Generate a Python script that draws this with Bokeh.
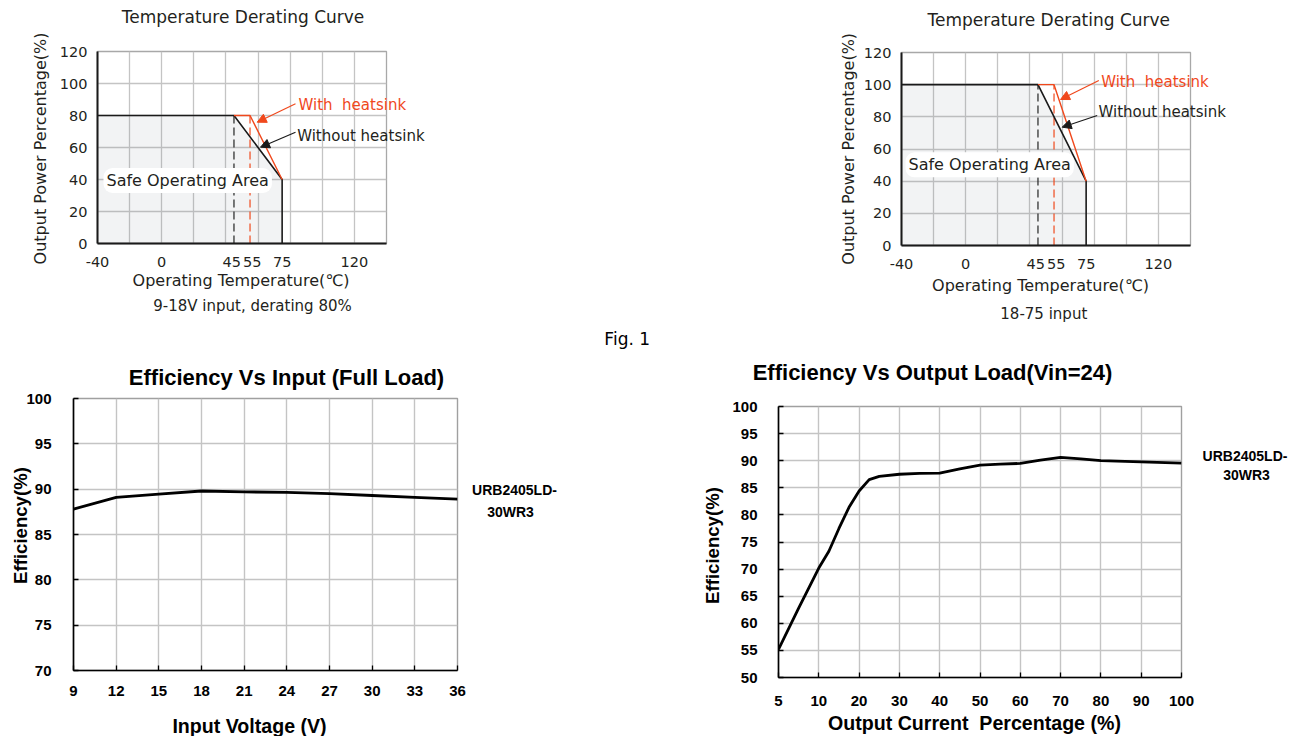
import math
import numpy as np
from bokeh.plotting import figure
from bokeh.layouts import column, row
from bokeh.models import Range1d, FixedTicker, Label, Arrow, NormalHead
from bokeh.embed import file_html
from bokeh.resources import INLINE

# ---------------- data ----------------
temp_ticks = [-40, 0, 45, 55, 75, 120]
temp_grid = [-40, -20, 0, 20, 40, 60, 80, 100, 120, 140]
power_ticks = [0, 20, 40, 60, 80, 100, 120]

# derating curves: temperature (C) vs output power (%)
no_hs_temp = [-40, 45, 75, 75]
hs_temp = [45, 55, 75]
no_hs_power_a = [80, 80, 40, 0]
hs_power_a = [80, 80, 40]
no_hs_power_b = [100, 100, 40, 0]
hs_power_b = [100, 100, 40]

vin = [9, 12, 15, 18, 21, 24, 27, 30, 33, 36]
eff_vin = [87.8, 89.1, 89.45, 89.8, 89.7, 89.65, 89.5, 89.3, 89.1, 88.9]
eff_ticks_c = [70, 75, 80, 85, 90, 95, 100]

load_ticks = [5, 10, 20, 30, 40, 50, 60, 70, 80, 90, 100]
load = [5, 7.5, 10, 12.5, 15, 17.5, 20, 22.5, 25, 30, 35, 40, 45, 50, 55, 60, 65, 70, 75, 80, 90, 100]
eff_load = [55.2, 62.8, 70.2, 73.3, 77.5, 81.4, 84.4, 86.5, 87.1, 87.5, 87.65, 87.7, 88.5, 89.2,
            89.35, 89.5, 90.1, 90.6, 90.35, 90.0, 89.8, 89.55]
eff_ticks_d = [50, 55, 60, 65, 70, 75, 80, 85, 90, 95, 100]

TXT = "#231f20"
RED = "#f0481c"
TOPF = "DejaVu Sans"
BOTF = "Liberation Sans"
NB = "\u00a0"
ROW1 = 352
ROW2 = 384
SPLIT1 = 660


class Geo:
    def __init__(self, ox, oy, bl, bt, fw, fh, xr, yr):
        self.fl = ox + bl
        self.ft = oy + bt
        self.fw, self.fh = fw, fh
        self.xr, self.yr = xr, yr

    def x(self, px):
        return self.xr[0] + (px - self.fl) / self.fw * (self.xr[1] - self.xr[0])

    def y(self, py):
        return self.yr[1] - (py - self.ft) / self.fh * (self.yr[1] - self.yr[0])


def make_fig(ox, oy, width, height, bl, bt, fw, fh, xr, yr):
    p = figure(width=width, height=height, x_range=Range1d(*xr), y_range=Range1d(*yr),
               output_backend="svg", toolbar_location=None)
    p.min_border_left = bl
    p.min_border_top = bt
    p.min_border_right = width - bl - fw
    p.min_border_bottom = height - bt - fh
    p.background_fill_color = "white"
    p.border_fill_color = "white"
    p.axis.minor_tick_in = 0
    p.axis.minor_tick_out = 0
    return p, Geo(ox, oy, bl, bt, fw, fh, xr, yr)


def lab(p, g, text, px, py, size, font, side=None, color=TXT, align="center", angle=0,
        style="normal", **kw):
    lb = Label(x=g.x(px), y=g.y(py), text=text, text_font=font, text_font_size=f"{size}px",
               text_color=color, text_align=align, text_baseline="middle", angle=angle,
               text_font_style=style, **kw)
    if side is None:
        p.add_layout(lb)
    else:
        p.add_layout(lb, side)


def arrow(p, g, x0, y0, x1, y1, color):
    p.add_layout(Arrow(x_start=g.x(x0), y_start=g.y(y0), x_end=g.x(x1), y_end=g.y(y1),
                       line_color=color, line_width=1.2,
                       end=NormalHead(size=9, fill_color=color, line_color=color, line_width=1)))


def derating(ox, width, bl, bt, fh, no_hs_power, hs_power, pos):
    p, g = make_fig(ox, 0, width, ROW1, bl, bt, 289, fh, (-40, 140), (0, 120))
    p.xaxis.ticker = FixedTicker(ticks=temp_ticks)
    p.xaxis.major_label_overrides = {-40: "-40", 45: "45" + NB, 55: NB + "55"}
    p.xgrid.ticker = FixedTicker(ticks=temp_grid)
    p.yaxis.ticker = FixedTicker(ticks=power_ticks)
    p.ygrid.ticker = FixedTicker(ticks=power_ticks)
    p.axis.major_tick_in = 0
    p.axis.major_tick_out = 0
    p.axis.major_label_text_font = TOPF
    p.axis.major_label_text_font_size = "14.5px"
    p.axis.major_label_text_color = TXT
    p.axis.major_label_standoff = 10
    p.axis.axis_line_color = "#1a1a1a"
    p.axis.axis_line_width = 2
    p.grid.grid_line_color = "#c4c4c4"
    p.grid.grid_line_width = 1.3
    p.outline_line_color = "#a8a8a8"
    p.outline_line_width = 1.3

    rated = no_hs_power[0]
    p.patch([no_hs_temp[0]] + no_hs_temp, [0] + no_hs_power, fill_color="#6a7a8a",
            fill_alpha=0.09, line_alpha=0)
    p.line([hs_temp[0], hs_temp[0]], [0, rated], line_color="#222222", line_width=1.2,
           line_dash="8 4")
    p.line([hs_temp[1], hs_temp[1]], [0, rated], line_color=RED, line_width=1.2,
           line_dash="8 4")
    p.line(no_hs_temp, no_hs_power, line_color="#1a1a1a", line_width=1.6)
    p.line(hs_temp, hs_power, line_color=RED, line_width=1.4)

    sides = pos["sides"]
    lab(p, g, "Temperature Derating Curve", *pos["title"], 17, TOPF, side="above")
    lab(p, g, "Output Power Percentage(%)", *pos["ylab"], 16, TOPF, side="left",
        angle=math.pi / 2)
    lab(p, g, "Operating Temperature(\u2103)", *pos["xlab"], 16, TOPF, side="below")
    lab(p, g, pos["subtitle"], *pos["sub"], 15, TOPF, side="below")
    lab(p, g, "With " + NB + "heatsink", *pos["with"], 15, TOPF, side=sides[0], color=RED,
        align="left")
    lab(p, g, "Without heatsink", *pos["without"], 15, TOPF, side=sides[1], align="left")
    lab(p, g, "Safe Operating Area", *pos["safe"], 16, TOPF, align="left",
        background_fill_color="white", padding=3, border_radius=9)
    arrow(p, g, *pos["red_arrow"], RED)
    arrow(p, g, *pos["blk_arrow"], "#1a1a1a")
    return p, g


pa, ga = derating(0, SPLIT1, 97, 51, 192, no_hs_power_a, hs_power_a, {
    "title": (242.5, 16), "ylab": (40, 148), "xlab": (240.5, 280), "sub": (252, 305),
    "subtitle": "9-18V input, derating 80%", "sides": ("right", "right"),
    "with": (298, 104.5), "without": (296.7, 135.7), "safe": (103, 180),
    "red_arrow": (295, 103.3, 256.7, 121.7), "blk_arrow": (295, 131.7, 260, 146.7)})

pb, gb = derating(SPLIT1, 1298 - SPLIT1, 901 - SPLIT1, 52, 193, no_hs_power_b, hs_power_b, {
    "title": (1048.3, 19.3), "ylab": (848.3, 148.3), "xlab": (1040, 285), "sub": (1043.3, 313.3),
    "subtitle": "18-75 input", "sides": ("left", "below"),
    "with": (1100.7, 81.7), "without": (1098, 111.7), "safe": (905, 164.3),
    "red_arrow": (1098.3, 80, 1060, 99), "blk_arrow": (1096.7, 115, 1061.7, 126.7)})

lab(pa, ga, "Fig. 1", 626.7, 338.3, 17, TOPF, side="below", color="black")


def style_bottom(p):
    p.axis.major_tick_in = 5
    p.axis.major_tick_out = 0
    p.axis.major_tick_line_color = "black"
    p.axis.major_tick_line_width = 1.3
    p.axis.major_label_text_font = BOTF
    p.axis.major_label_text_font_size = "15px"
    p.axis.major_label_text_font_style = "bold"
    p.axis.major_label_text_color = "black"
    p.axis.axis_line_color = "black"
    p.axis.axis_line_width = 1.6
    p.grid.grid_line_color = "#c4c4c4"
    p.grid.grid_line_width = 1.4
    p.outline_line_color = "#a0a0a0"
    p.outline_line_width = 1.4


B = "bold"

# ---------------- Efficiency vs input ----------------
pc, gc = make_fig(0, ROW1, 650, ROW2, 73, 398 - ROW1, 384, 272, (9, 36), (70, 100))
style_bottom(pc)
pc.xaxis.ticker = FixedTicker(ticks=vin)
pc.yaxis.ticker = FixedTicker(ticks=eff_ticks_c)
pc.xaxis.major_label_standoff = 15
pc.yaxis.major_label_standoff = 22
pc.line(vin, eff_vin, line_color="black", line_width=2.8)
lab(pc, gc, "Efficiency Vs Input (Full Load)", 286, 377, 22, BOTF, side="above", color="black", style=B)
lab(pc, gc, "Efficiency(%)", 20, 525, 18.6, BOTF, side="right", color="black", angle=math.pi / 2, style=B)
lab(pc, gc, "Input Voltage (V)", 249, 725, 19.6, BOTF, side="below", color="black", style=B)
lab(pc, gc, "URB2405LD-", 514, 489, 14, BOTF, side="right", color="black", style=B)
lab(pc, gc, "30WR3", 510, 511.7, 14, BOTF, side="right", color="black", style=B)

# ---------------- Efficiency vs load ----------------
pd_, gd = make_fig(650, ROW1, 648, ROW2, 128, 406 - ROW1, 403, 271, (0, 10), (50, 100))
style_bottom(pd_)
pos_idx = list(range(len(load_ticks)))
pd_.xaxis.ticker = FixedTicker(ticks=pos_idx)
pd_.xaxis.major_label_overrides = {i: str(v) for i, v in zip(pos_idx, load_ticks)}
pd_.yaxis.ticker = FixedTicker(ticks=eff_ticks_d)
pd_.xaxis.major_label_standoff = 18
pd_.yaxis.major_label_standoff = 21
load_pos = np.interp(load, load_ticks, pos_idx)
pd_.line(load_pos, eff_load, line_color="black", line_width=2.8)
lab(pd_, gd, "Efficiency Vs Output Load(Vin=24)", 932, 372, 22, BOTF, side="above", color="black", style=B)
lab(pd_, gd, "Efficiency(%)", 712, 545, 18.6, BOTF, side="left", color="black", angle=math.pi / 2, style=B)
lab(pd_, gd, "Output Current " + NB + "Percentage (%)", 974, 722, 19.6, BOTF, side="above",
    color="black", style=B)
lab(pd_, gd, "URB2405LD-", 1244.5, 455.7, 14, BOTF, side="right", color="black", style=B)
lab(pd_, gd, "30WR3", 1246, 474.3, 14, BOTF, side="left", color="black", style=B)

layout = column(row(column(pa), column(pb)), row(column(pc), column(pd_)))
open("out.html", "w").write(file_html(layout, INLINE))
